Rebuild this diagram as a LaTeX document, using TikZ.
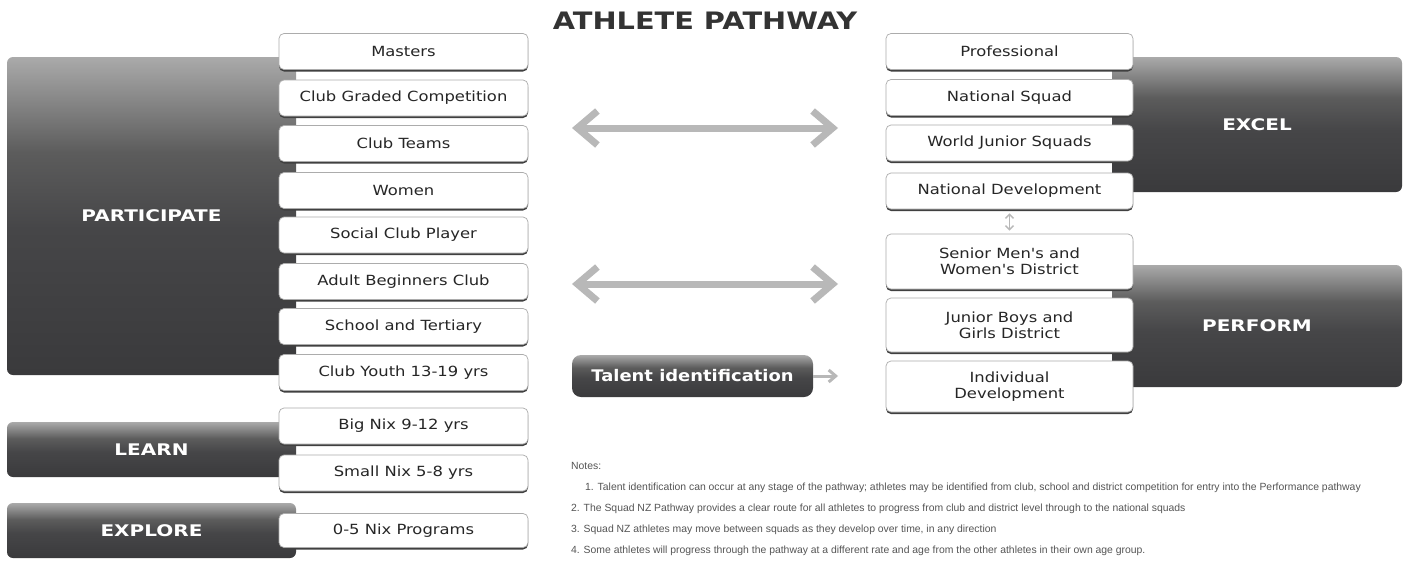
\documentclass[tikz,border=0pt]{standalone}
\usepackage{fontspec}
\setmainfont{DejaVu Sans}
\newfontfamily\boxfont[FakeStretch=1.17]{DejaVu Sans}
\newfontfamily\labfont[FakeStretch=1.25]{DejaVu Sans}
\newfontfamily\talfont[FakeStretch=1.12]{DejaVu Sans}
\newfontfamily\titfont[FakeStretch=1.2]{DejaVu Sans}
\newfontfamily\notefont{Liberation Sans}
\usetikzlibrary{arrows.meta,shadows}
\definecolor{bd}{HTML}{3A3A3C}
\definecolor{bm}{HTML}{464648}
\definecolor{bm2}{HTML}{5C5C5C}
\definecolor{bt}{HTML}{AAAAAA}
\definecolor{arrowgray}{HTML}{B8B8B8}
\definecolor{notegray}{HTML}{555555}
\pgfdeclareverticalshading{blk}{100bp}{color(0bp)=(bd); color(25bp)=(bd); color(48bp)=(bm); color(60bp)=(bm2); color(75bp)=(bt); color(100bp)=(bt)}
\begin{document}
\begin{tikzpicture}[x=1pt,y=-1pt,
  box/.style={draw=gray!65, line width=0.7pt, fill=white, rounded corners=5pt,
    minimum width=249pt, minimum height=36pt, inner sep=0pt, align=center,
    font=\boxfont\fontsize{14}{16}\selectfont, text=black!85,
    drop shadow={shadow xshift=0pt, shadow yshift=-2pt, fill=black!75, opacity=1}},
  rbox/.style={box, minimum width=247pt},
  blk/.style={shade, shading=blk, rounded corners=6pt, inner sep=0pt,
    text=white, font=\labfont\bfseries\fontsize{16}{18}\selectfont},
  bigarrow/.style={draw=arrowgray, line width=7pt,
    {Straight Barb[length=20pt,width=34pt]}-{Straight Barb[length=20pt,width=34pt]}},
  smallarrow/.style={draw=arrowgray, line width=3pt, -{Straight Barb[length=7pt,width=12pt]}},
  vdarrow/.style={draw=arrowgray, line width=1.5pt,
    {Straight Barb[length=4pt,width=8pt]}-{Straight Barb[length=4pt,width=8pt]}},
  note/.style={anchor=west, inner sep=0pt, text=notegray, font=\notefont\fontsize{10.4}{12}\selectfont},
]
\useasboundingbox (0,0) rectangle (1408,563);
\fill[white] (0,0) rectangle (1408,563);

% title
\node[font=\titfont\bfseries\fontsize{24}{26}\selectfont, text=black!80] (title) at (705,21) {ATHLETE PATHWAY};

% dark blocks
\node[blk, minimum width=289pt, minimum height=318pt] (participate) at (151.5,216) {PARTICIPATE};
\node[blk, minimum width=289pt, minimum height=55pt] (learn) at (151.5,449.5) {LEARN};
\node[blk, minimum width=289pt, minimum height=55pt] (explore) at (151.5,530.5) {EXPLORE};
\node[blk, minimum width=290pt, minimum height=135pt] (excel) at (1257,124.5) {EXCEL};
\node[blk, minimum width=290pt, minimum height=122pt] (perform) at (1257,326) {PERFORM};

% left column
\node[box] (masters) at (403.5,51.5) {Masters};
\node[box] (graded) at (403.5,98) {Club Graded Competition};
\node[box] (teams) at (403.5,143.5) {Club Teams};
\node[box] (women) at (403.5,190.5) {Women};
\node[box] (social) at (403.5,235) {Social Club Player};
\node[box] (adult) at (403.5,281.5) {Adult Beginners Club};
\node[box] (school) at (403.5,326.5) {School and Tertiary};
\node[box] (youth) at (403.5,372.5) {Club Youth 13-19 yrs};
\node[box] (bignix) at (403.5,426) {Big Nix 9-12 yrs};
\node[box] (smallnix) at (403.5,473) {Small Nix 5-8 yrs};
\node[box, minimum height=34pt] (zeronix) at (403.5,530.5) {0-5 Nix Programs};

% right column
\node[rbox] (pro) at (1009.5,51.5) {Professional};
\node[rbox] (natsquad) at (1009.5,97.5) {National Squad};
\node[rbox] (wjs) at (1009.5,143) {World Junior Squads};
\node[rbox] (natdev) at (1009.5,191) {National Development};
\node[rbox, minimum height=55pt] (senior) at (1009.5,261.5) {Senior Men's and\\Women's District};
\node[rbox, minimum height=54pt] (junior) at (1009.5,325) {Junior Boys and\\Girls District};
\node[rbox, minimum height=51pt] (indiv) at (1009.5,386.5) {Individual\\Development};

% big arrows
\coordinate (a1l) at (572,128);
\coordinate (a1r) at (838,128);
\coordinate (a2l) at (572,284);
\coordinate (a2r) at (838,284);
\draw[bigarrow] (a1l) -- (a1r);
\draw[bigarrow] (a2l) -- (a2r);

% small vertical arrow
\draw[vdarrow] ([yshift=-4pt]natdev.south) -- ([yshift=3pt]senior.north);

% talent identification
\node[blk, font=\talfont\bfseries\fontsize{16}{18}\selectfont, rounded corners=9pt, minimum width=241pt, minimum height=42pt] (talent) at (692.5,376) {Talent identification};
\coordinate (ttip) at (838,376);
\draw[smallarrow] (talent.east) -- (ttip);

% notes
\node[note] (n0) at (571,466) {Notes:};
\node[note] (n1) at (585,488) {1. Talent identification can occur at any stage of the pathway; athletes may be identified from club, school and district competition for entry into the Performance pathway};
\node[note] (n2) at (571,509) {2. The Squad NZ Pathway provides a clear route for all athletes to progress from club and district level through to the national squads};
\node[note] (n3) at (571,530) {3. Squad NZ athletes may move between squads as they develop over time, in any direction};
\node[note] (n4) at (571,551) {4. Some athletes will progress through the pathway at a different rate and age from the other athletes in their own age group.};
\end{tikzpicture}
\end{document}
